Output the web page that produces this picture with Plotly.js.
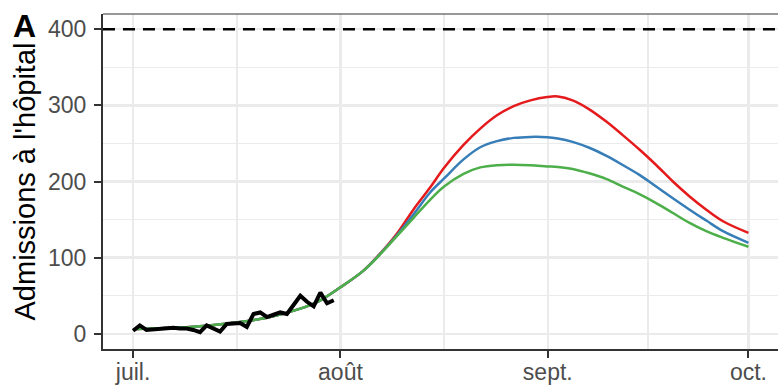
<!DOCTYPE html>
<html>
<head>
<meta charset="utf-8">
<script src="https://cdn.plot.ly/plotly-3.0.1.min.js"></script>
<style>
  html, body { margin: 0; padding: 0; background: #fff; overflow: hidden; }
  #chart { width: 778px; height: 388px; }
</style>
</head>
<body>
<div id="chart"></div>
<script>
// ---- Data ----
const startDate = "2021-07-01";
const obsValues = [4, 11, 5, 6, 7, 8, 8, 7, 7, 5, 2, 11, 7, 3, 13, 14, 14, 9, 26, 28, 22, 25, 28, 26, 37, 50, 42, 36, 54, 40, 44];

// model sample positions, in days after 1 July
const modelDays = [0, 5, 10, 15, 20, 25, 28, 31, 34.4, 36.9, 39.4, 41.9, 44.4, 46.5, 49.4, 51.9, 54.4, 56.9, 59.4, 61.9, 63.5, 65.7, 68.2, 70.7, 73.2, 75.7, 78.2, 80.7, 83.2, 85.7, 88.2, 92];
const greenValues = [6, 7.5, 10, 14.5, 21, 33, 44, 61, 82.6, 104, 128, 152, 176, 193.4, 210, 218.5, 221.5, 221.9, 221.2, 219.8, 219, 216.5, 210.8, 203.5, 193.4, 183.4, 171.7, 158.6, 145.6, 134.7, 126, 114.3];
const blueValues  = [6, 7.5, 10, 14.5, 21, 33, 44, 61, 82.6, 104.5, 129, 156.5, 185.6, 204, 229, 245, 253, 257.3, 258.6, 258.2, 256.4, 252, 244.3, 233.9, 221.7, 208.7, 193.4, 178, 163, 148.7, 134.7, 119.5];
const redValues   = [6, 7.5, 10, 14.5, 21, 33, 44, 61, 82.6, 105, 131, 163, 192, 218, 248, 269.5, 287, 299, 306.5, 311, 311.7, 306.5, 294.8, 279, 260.9, 242, 221.7, 200, 180.4, 163, 147.8, 132.5];

const threshold = 400;

const xTickVals = ["2021-07-01", "2021-08-01", "2021-09-01", "2021-10-01"];
const xTickText = ["juil.", "août", "sept.", "oct."];
const xMinorVals = ["2021-07-16 12:00", "2021-08-16 12:00", "2021-09-16 00:00"];
const yTickVals = [0, 100, 200, 300, 400];
const yMinorVals = [50, 150, 250, 350];

// ---- helpers: day offset -> date string ----
function dayToDate(offset) {
  const ms = Date.parse(startDate + "T00:00:00Z") + offset * 86400000;
  return new Date(ms).toISOString().slice(0, 19).replace("T", " ");
}
const obsDates = obsValues.map((_, i) => dayToDate(i));
const modelDates = modelDays.map(dayToDate);

const FONT = "Liberation Sans, Arial, Helvetica, sans-serif";
const GRID = "#EBEBEB";
const AXIS = "#333333";

const traces = [
  { x: modelDates, y: redValues, type: "scatter", mode: "lines",
    line: { color: "#E41A1C", width: 2.5, shape: "spline", smoothing: 1 }, hoverinfo: "skip" },
  { x: modelDates, y: blueValues, type: "scatter", mode: "lines",
    line: { color: "#377EB8", width: 2.5, shape: "spline", smoothing: 1 }, hoverinfo: "skip" },
  { x: modelDates, y: greenValues, type: "scatter", mode: "lines",
    line: { color: "#4DAF4A", width: 2.5, shape: "spline", smoothing: 1 }, hoverinfo: "skip" },
  { x: obsDates, y: obsValues, type: "scatter", mode: "lines",
    line: { color: "#000000", width: 4 }, hoverinfo: "skip" }
];

const layout = {
  width: 778, height: 388,
  margin: { l: 103, r: 0, t: 14, b: 39 },
  paper_bgcolor: "#fff", plot_bgcolor: "#fff",
  showlegend: false,
  font: { family: FONT, color: "#4D4D4D" },
  xaxis: {
    type: "date",
    range: ["2021-06-26 12:00", "2021-10-05 10:00"],
    tickmode: "array", tickvals: xTickVals, ticktext: xTickText,
    tickfont: { family: FONT, size: 23, color: "#4D4D4D" },
    ticks: "outside", ticklen: 7, tickwidth: 2, tickcolor: AXIS,
    ticklabelstandoff: -6,
    showgrid: true, gridcolor: GRID, gridwidth: 2.5,
    minor: { tickmode: "array", tickvals: xMinorVals, showgrid: true, gridcolor: GRID, gridwidth: 1.5, ticks: "" },
    showline: true, linecolor: AXIS, linewidth: 2,
    zeroline: false, fixedrange: true
  },
  yaxis: {
    range: [-20, 420],
    tickmode: "array", tickvals: yTickVals,
    tickfont: { family: FONT, size: 23, color: "#4D4D4D" },
    ticks: "outside", ticklen: 7, tickwidth: 2, tickcolor: AXIS,
    ticklabelstandoff: 3,
    showgrid: true, gridcolor: GRID, gridwidth: 2.5,
    minor: { tickmode: "array", tickvals: yMinorVals, showgrid: true, gridcolor: GRID, gridwidth: 1.5, ticks: "" },
    showline: true, linecolor: AXIS, linewidth: 2,
    zeroline: false, fixedrange: true,
    title: { text: "Admissions à l'hôpital", font: { family: FONT, size: 29, color: "#000" }, standoff: 4 }
  },
  shapes: [
    { type: "line", xref: "paper", yref: "y", x0: 0, x1: 1, y0: threshold, y1: threshold,
      line: { color: "#000", width: 2.5, dash: "12px,8px" }, layer: "above" },
    { type: "line", xref: "paper", yref: "paper", x0: 0, x1: 1, y0: 1, y1: 1,
      line: { color: AXIS, width: 1.2 }, layer: "above" }
  ],
  annotations: [
    { text: "<b>A</b>", xref: "paper", yref: "paper", x: -0.137, y: 1.025,
      xanchor: "left", yanchor: "top", showarrow: false,
      font: { family: FONT, size: 32, color: "#000" } }
  ]
};

Plotly.newPlot("chart", traces, layout, { displayModeBar: false, staticPlot: true });
</script>
</body>
</html>
